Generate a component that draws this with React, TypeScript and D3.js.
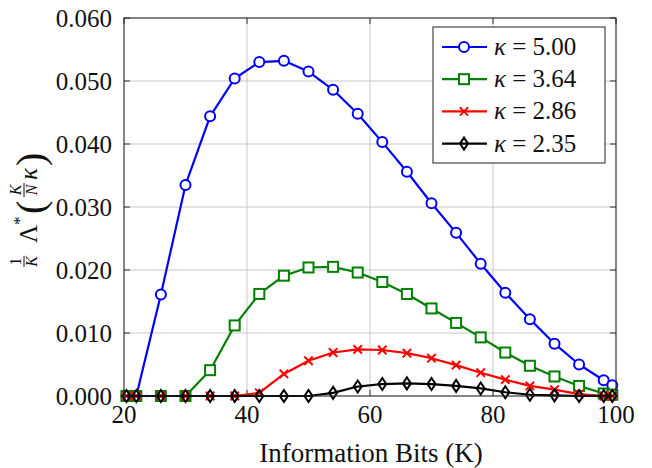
import * as d3 from 'd3'

// information bits (K)
const K_BITS = [20.4, 22, 26, 30, 34, 38, 42, 46, 50, 54, 58, 62, 66, 70, 74, 78, 82, 86, 90, 94, 98, 99.4]

const KAPPA_500 = [0, 0, 0.0161, 0.0335, 0.0444, 0.0504, 0.053, 0.0532, 0.0515, 0.0486, 0.0448, 0.0403, 0.0356, 0.0306, 0.0259, 0.021, 0.0164, 0.0122, 0.0083, 0.005, 0.0025, 0.0017]
const KAPPA_364 = [0, 0, 0, 0, 0.0041, 0.0112, 0.0162, 0.0191, 0.0204, 0.0205, 0.0196, 0.0181, 0.0162, 0.0139, 0.0116, 0.0093, 0.0069, 0.0048, 0.0031, 0.0016, 0.0004, 0.0002]
const KAPPA_286 = [0, 0, 0, 0, 0, 0, 0.0005, 0.0035, 0.0056, 0.0069, 0.0074, 0.0073, 0.0068, 0.006, 0.0049, 0.0037, 0.0026, 0.0016, 0.001, 0.0003, 0, 0]
const KAPPA_235 = [0, 0, 0, 0, 0, 0, 0, 0, 0, 0.0005, 0.0015, 0.0019, 0.002, 0.0019, 0.0016, 0.0012, 0.0006, 0.0002, 0.0001, 0, 0, 0]

const SERIES_LABELS = ['5.00', '3.64', '2.86', '2.35']
const X_TICKS = [20, 40, 60, 80, 100]
const Y_TICKS = [0, 0.01, 0.02, 0.03, 0.04, 0.05, 0.06]

const W = 652
const H = 468
const SERIF = 'Liberation Serif'

const series = [
  { label: SERIES_LABELS[0], values: KAPPA_500, color: '#0000ff', mark: 'circle' },
  { label: SERIES_LABELS[1], values: KAPPA_364, color: '#008000', mark: 'square' },
  { label: SERIES_LABELS[2], values: KAPPA_286, color: '#ff0000', mark: 'cross' },
  { label: SERIES_LABELS[3], values: KAPPA_235, color: '#000000', mark: 'diamond' },
]

function Marker({ type, x, y, color }: { type: string; x: number; y: number; color: string }) {
  if (type === 'circle') {
    return <circle cx={x} cy={y} r={5} fill="white" stroke={color} strokeWidth={2} />
  }
  if (type === 'square') {
    return <rect x={x - 5} y={y - 5} width={10} height={10} fill="white" stroke={color} strokeWidth={2} />
  }
  if (type === 'cross') {
    const a = 4.2
    return (
      <path
        d={`M${x - a},${y - a}L${x + a},${y + a}M${x - a},${y + a}L${x + a},${y - a}`}
        stroke={color}
        strokeWidth={2}
      />
    )
  }
  // diamond
  return (
    <path
      d={`M${x},${y - 6}L${x + 4},${y}L${x},${y + 6}L${x - 4},${y}Z`}
      fill="none"
      stroke={color}
      strokeWidth={2}
    />
  )
}

export default function App() {
  const x = d3.scaleLinear().domain([20, 100]).range([124, 616])
  const y = d3.scaleLinear().domain([0, 0.06]).range([396, 18])
  const [x0, x1] = x.range()
  const [y0, y1] = y.range()

  const line = d3
    .line<number>()
    .x((_, i) => x(K_BITS[i]))
    .y((d) => y(d))

  const tickLen = 6
  const fmt = d3.format('.3f')

  return (
    <svg
      className="serif-chart"
      width={W}
      height={H}
      style={{ position: 'absolute', left: 0, top: 0, background: 'white' }}
    >
      <style>{`.serif-chart text, .serif-chart tspan { font-family: '${SERIF}', 'Tinos', 'Times New Roman' !important; }`}</style>

      {/* grid */}
      {X_TICKS.slice(1, -1).map((t) => (
        <line key={'gx' + t} x1={x(t)} x2={x(t)} y1={y0} y2={y1} stroke="#c8c8c8" strokeWidth={1} />
      ))}
      {Y_TICKS.slice(1, -1).map((t) => (
        <line key={'gy' + t} x1={x0} x2={x1} y1={y(t)} y2={y(t)} stroke="#c8c8c8" strokeWidth={1} />
      ))}

      {/* inward ticks on all sides */}
      {X_TICKS.map((t) => (
        <g key={'tx' + t} stroke="#333" strokeWidth={1}>
          <line x1={x(t)} x2={x(t)} y1={y0} y2={y0 - tickLen} />
          <line x1={x(t)} x2={x(t)} y1={y1} y2={y1 + tickLen} />
        </g>
      ))}
      {Y_TICKS.map((t) => (
        <g key={'ty' + t} stroke="#333" strokeWidth={1}>
          <line x1={x0} x2={x0 + tickLen} y1={y(t)} y2={y(t)} />
          <line x1={x1} x2={x1 - tickLen} y1={y(t)} y2={y(t)} />
        </g>
      ))}

      {/* series */}
      {series.map((s) => (
        <g key={s.label}>
          <path d={line(s.values) ?? ''} fill="none" stroke={s.color} strokeWidth={2.2} strokeLinejoin="round" />
          {s.values.map((v, i) => (
            <Marker key={i} type={s.mark} x={x(K_BITS[i])} y={y(v)} color={s.color} />
          ))}
        </g>
      ))}

      {/* frame */}
      <rect x={x0} y={y1} width={x1 - x0} height={y0 - y1} fill="none" stroke="#222" strokeWidth={1.1} />

      {/* tick labels */}
      {X_TICKS.map((t) => (
        <text key={'lx' + t} x={x(t)} y={y0 + 27} fontSize={25} textAnchor="middle" fill="#111">
          {t}
        </text>
      ))}
      {Y_TICKS.map((t) => (
        <text key={'ly' + t} x={x0 - 12} y={y(t) + 9} fontSize={25} textAnchor="end" fill="#111">
          {fmt(t)}
        </text>
      ))}

      {/* x label */}
      <text x={(x0 + x1) / 2 + 1} y={y0 + 66} fontSize={27} textAnchor="middle" fill="#111">
        Information Bits (K)
      </text>

      {/* y label: 1/K Λ*(K/N κ) */}
      <g transform="translate(37,210) rotate(-90)" fill="#111">
        <text x={-51.5} y={-16} fontSize={16} textAnchor="middle">1</text>
        <line x1={-57} x2={-46} y1={-13} y2={-13} stroke="#111" strokeWidth={1} />
        <text x={-51.5} y={0} fontSize={16} fontStyle="italic" textAnchor="middle">K</text>
        <text x={-33} y={0} fontSize={25}>Λ</text>
        <text x={-15} y={-12} fontSize={17}>*</text>
        <text x={-4} y={7} fontSize={40}>(</text>
        <text x={20} y={-16} fontSize={16} fontStyle="italic" textAnchor="middle">K</text>
        <line x1={13} x2={27} y1={-13} y2={-13} stroke="#111" strokeWidth={1} />
        <text x={20} y={0} fontSize={16} fontStyle="italic" textAnchor="middle">N</text>
        <text x={30} y={0} fontSize={25} fontStyle="italic">κ</text>
        <text x={44} y={7} fontSize={40}>)</text>
      </g>

      {/* legend */}
      <g>
        <rect x={433} y={27} width={172} height={136} fill="white" stroke="#222" strokeWidth={1} />
        {series.map((s, i) => {
          const cy = 47 + i * 32.2
          return (
            <g key={'lg' + s.label}>
              <line x1={442} x2={487} y1={cy} y2={cy} stroke={s.color} strokeWidth={2.2} />
              <Marker type={s.mark} x={464} y={cy} color={s.color} />
              <text x={494} y={cy + 8} fontSize={25} fill="#111">
                <tspan fontStyle="italic">κ</tspan>
                <tspan> = {s.label}</tspan>
              </text>
            </g>
          )
        })}
      </g>
    </svg>
  )
}
